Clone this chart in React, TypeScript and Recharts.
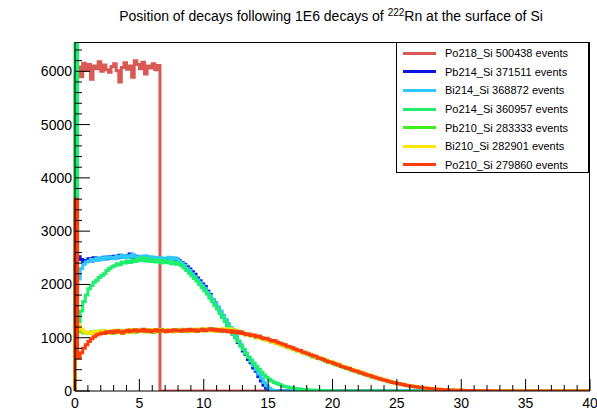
import { LineChart, Line, XAxis, YAxis, Legend } from 'recharts';

// histogram bin width along x
const BIN = 0.2;

const seriesNames = ['Po218_Si', 'Pb214_Si', 'Bi214_Si', 'Po214_Si', 'Pb210_Si', 'Bi210_Si', 'Po210_Si'];
const seriesEvents = [500438, 371511, 368872, 360957, 283333, 282901, 279860];
const seriesColors = ['#d95a55', '#0a16e0', '#2ec8ff', '#1eef6e', '#3cf01e', '#ffe600', '#ff3c0a'];

const po218 = [
  5950, 6080, 5900, 6150, 6020, 6130, 5850, 6100, 6050, 6180, 6000, 6120, 6030, 5980, 6090, 6140, 6010,
  5800, 6070, 6160, 6040, 6100, 5890, 6200, 6130, 6050, 6170, 5950, 6100, 6060, 6140, 6030, 6110,
];

const pb214 = [
  2560, 2520, 2470, 2430, 2450, 2480, 2440, 2500, 2460, 2490, 2470, 2510, 2480, 2520, 2490,
  2530, 2500, 2550, 2510, 2540, 2520, 2570, 2500, 2530, 2490, 2520, 2480, 2510, 2470, 2500,
  2460, 2500, 2450, 2480, 2440, 2470, 2430, 2490, 2450, 2480, 2450, 2410, 2380, 2330, 2290,
  2240, 2190, 2120, 2070, 2010, 1960, 1870, 1810, 1710, 1650, 1560, 1490, 1390, 1330, 1230,
  1170, 1070, 1010, 910, 850, 750, 690, 590, 530, 430, 370, 270, 190, 110, 50, 15, 5,
];

const bi214 = [
  1700, 2100, 2300, 2380, 2420, 2440, 2470, 2450, 2490, 2460, 2500, 2470, 2520, 2490, 2510,
  2480, 2530, 2510, 2550, 2500, 2540, 2510, 2560, 2520, 2500, 2530, 2500, 2540, 2490, 2520,
  2480, 2510, 2470, 2500, 2460, 2490, 2510, 2470, 2500, 2480, 2440, 2400, 2360, 2300, 2260,
  2200, 2150, 2090, 2040, 1980, 1930, 1850, 1790, 1720, 1640, 1580, 1500, 1420, 1340, 1260,
  1190, 1100, 1030, 940, 870, 790, 710, 630, 560, 480, 400, 320, 240, 160, 100, 50, 20, 8,
];

const po214 = [
  7000, 1300, 1500, 1680, 1800, 1920, 1980, 2040, 2080, 2130, 2170, 2200, 2260, 2300, 2330,
  2350, 2390, 2370, 2420, 2400, 2440, 2410, 2460, 2430, 2480, 2450, 2500, 2440, 2480, 2430,
  2460, 2420, 2470, 2400, 2450, 2410, 2440, 2390, 2420, 2380, 2400, 2350, 2310, 2260, 2210,
  2160, 2110, 2060, 2000, 1940, 1880, 1820, 1740, 1680, 1600, 1540, 1450, 1380, 1300, 1220,
  1150, 1070, 1000, 930, 850, 780, 710, 640, 580, 520, 460, 410, 350, 300, 260,
  220, 190, 160, 140, 120, 100, 85, 75, 65, 55, 48, 42, 36, 30, 26,
  22, 20, 17, 15, 12, 10, 9, 8, 7, 6, 5,
];

const pb210 = [
  1310, 1170, 1110, 1090, 1100, 1080, 1110, 1090, 1120, 1100, 1130, 1090, 1120, 1100, 1080,
  1120, 1100, 1140, 1090, 1130, 1110, 1150, 1120, 1100, 1140, 1120, 1140, 1110, 1150, 1130,
  1100, 1140, 1120, 1160, 1110, 1140, 1120, 1130, 1110, 1150, 1120, 1160, 1130, 1110, 1140,
  1150, 1120, 1160, 1130, 1140, 1160, 1130, 1150, 1170, 1130, 1150, 1120, 1160, 1130, 1140,
  1110, 1150, 1100, 1120, 1080, 1090, 1050, 1060, 1030, 1040, 1000, 1020, 990, 970, 960,
  950, 920, 930, 890, 880, 860, 850, 820, 810, 790, 780, 750, 740, 720, 700,
  690, 670, 640, 630, 610, 600, 580, 560, 540, 530, 510, 490, 480, 460, 440,
  420, 410, 390, 380, 360, 340, 330, 310, 300, 280, 260, 250, 240, 220, 210,
  195, 185, 170, 160, 145, 135, 128, 118, 108, 98, 90, 82, 76, 70, 62,
  56, 52, 46, 42, 38, 34, 30, 27, 24, 22, 19, 17, 16, 14, 12,
  11, 10, 9, 8, 7, 6, 5, 5, 4, 4, 3, 3, 2, 2, 1, 1, 1, 1, 1, 1,
];

const bi210 = [
  1250, 1230, 1160, 1120, 1090, 1100, 1080, 1110, 1090, 1120, 1100, 1130, 1110, 1090, 1120,
  1140, 1110, 1090, 1130, 1120, 1100, 1130, 1150, 1110, 1130, 1150, 1120, 1130, 1110, 1150,
  1130, 1110, 1150, 1130, 1120, 1150, 1130, 1110, 1140, 1120, 1130, 1150, 1120, 1140, 1130,
  1120, 1160, 1140, 1130, 1170, 1140, 1160, 1130, 1150, 1120, 1160, 1140, 1170, 1130, 1150,
  1170, 1130, 1140, 1110, 1100, 1070, 1080, 1050, 1060, 1030, 1020, 990, 1010, 980, 950,
  940, 930, 910, 900, 870, 870, 840, 830, 800, 800, 770, 760, 750, 720, 710,
  710, 680, 670, 640, 630, 620, 600, 580, 560, 550, 530, 510, 500, 470, 460,
  440, 430, 410, 390, 380, 360, 350, 330, 310, 300, 280, 265, 250, 235, 220,
  205, 195, 180, 165, 155, 145, 132, 122, 112, 104, 95, 88, 80, 72, 66,
  60, 54, 50, 44, 40, 36, 32, 29, 26, 23, 21, 18, 17, 15, 13,
  12, 11, 9, 8, 7, 7, 6, 5, 4, 4, 3, 3, 2, 2, 2, 1, 1, 1, 1, 1,
];

const po210 = [
  3600, 620, 720, 800, 870, 930, 980, 1020, 1050, 1070, 1090, 1080, 1110, 1100, 1120,
  1100, 1130, 1110, 1090, 1120, 1140, 1110, 1130, 1150, 1120, 1130, 1160, 1120, 1140, 1110,
  1130, 1150, 1120, 1140, 1130, 1110, 1140, 1120, 1150, 1130, 1140, 1120, 1150, 1130, 1160,
  1130, 1150, 1120, 1140, 1160, 1130, 1150, 1170, 1140, 1160, 1130, 1150, 1120, 1140, 1110,
  1130, 1100, 1120, 1090, 1110, 1080, 1060, 1070, 1040, 1050, 1020, 1030, 1000, 980, 990,
  960, 940, 950, 920, 900, 880, 870, 840, 830, 810, 790, 770, 760, 730, 720,
  700, 680, 660, 650, 620, 610, 590, 570, 550, 540, 520, 500, 490, 460, 450,
  430, 420, 400, 380, 370, 350, 340, 320, 300, 290, 270, 260, 240, 230, 210,
  200, 190, 175, 160, 150, 140, 130, 120, 110, 100, 92, 85, 78, 70, 64,
  58, 52, 48, 43, 39, 35, 31, 28, 25, 22, 20, 18, 16, 14, 13,
  12, 10, 9, 8, 7, 6, 6, 5, 4, 4, 3, 3, 2, 2, 2, 1, 1, 1, 1, 1,
];

const seriesValues = [po218, pb214, bi214, po214, pb210, bi210, po210];

const xTicks = [0, 1, 2, 3, 4, 5, 6, 7, 8, 9, 10, 11, 12, 13, 14, 15, 16, 17, 18, 19, 20,
  21, 22, 23, 24, 25, 26, 27, 28, 29, 30, 31, 32, 33, 34, 35, 36, 37, 38, 39, 40];
const xLabels = [0, 5, 10, 15, 20, 25, 30, 35, 40];
const yTicks = [0, 200, 400, 600, 800, 1000, 1200, 1400, 1600, 1800, 2000, 2200, 2400, 2600, 2800,
  3000, 3200, 3400, 3600, 3800, 4000, 4200, 4400, 4600, 4800, 5000, 5200, 5400, 5600, 5800, 6000, 6200, 6400];
const yLabels = [0, 1000, 2000, 3000, 4000, 5000, 6000];

const X_MAX = 40;
const Y_MAX = 6550;

const W = 597;
const H = 410;
const PLOT_LEFT = 75;
const PLOT_TOP = 42;
const PLOT_RIGHT = 590;
const PLOT_BOTTOM = 391;
const FONT = '"Liberation Sans", Arial, Helvetica, sans-serif';

// histogram outline: rise from 0 at the left edge, fall back to 0 after the last bin
function toHist(values: number[]) {
  const pts = [{ x: 0, y: 0 }];
  values.forEach((v, i) => pts.push({ x: +(i * BIN).toFixed(2), y: v }));
  pts.push({ x: +(values.length * BIN).toFixed(2), y: 0 });
  pts.push({ x: X_MAX, y: 0 });
  return pts;
}

const XTick = (props: any) => {
  const { x, payload } = props;
  const major = xLabels.includes(payload.value);
  return (
    <g>
      <line x1={x} x2={x} y1={PLOT_BOTTOM} y2={PLOT_BOTTOM - (major ? 12 : 6)} stroke="#000" strokeWidth={1} />
      {major && (
        <text x={x} y={408} textAnchor="middle" fontSize={14} fontFamily={FONT} fill="#000">
          {payload.value}
        </text>
      )}
    </g>
  );
};

const YTick = (props: any) => {
  const { y, payload } = props;
  const major = yLabels.includes(payload.value);
  return (
    <g>
      <line x1={PLOT_LEFT} x2={PLOT_LEFT + (major ? 15 : 7)} y1={y} y2={y} stroke="#000" strokeWidth={1} />
      {major && (
        <text x={72} y={y + 5} textAnchor="end" fontSize={14} fontFamily={FONT} fill="#000">
          {payload.value}
        </text>
      )}
    </g>
  );
};

const LegendBox = () => (
  <div
    style={{
      width: 193,
      height: 131,
      boxSizing: 'border-box',
      border: '1px solid #000',
      background: '#fff',
      paddingTop: 1,
      fontFamily: FONT,
      fontSize: 11,
      color: '#000',
    }}
  >
    {seriesNames.map((name, i) => (
      <div key={name} style={{ height: 18.6, display: 'flex', alignItems: 'center', whiteSpace: 'nowrap' }}>
        <div style={{ width: 33, height: 3, marginLeft: 6, background: seriesColors[i] }} />
        <span style={{ marginLeft: 9 }}>{name} {seriesEvents[i]} events</span>
      </div>
    ))}
  </div>
);

export default function App() {
  return (
    <div style={{ position: 'absolute', left: 0, top: 0, width: W, height: H, background: '#fff', fontFamily: FONT }}>
      <div
        style={{
          position: 'absolute',
          left: 0,
          top: 8,
          width: 662,
          textAlign: 'center',
          fontSize: 14,
          lineHeight: '16px',
          color: '#000',
          whiteSpace: 'nowrap',
        }}
      >
        Position of decays following 1E6 decays of{' '}
        <span style={{ fontSize: 10, position: 'relative', top: -5 }}>222</span>Rn at the surface of Si
      </div>
      <LineChart
        width={W}
        height={H}
        margin={{ top: PLOT_TOP, right: W - PLOT_RIGHT, left: 0, bottom: 0 }}
      >
        <XAxis
          type="number"
          dataKey="x"
          domain={[0, X_MAX]}
          ticks={xTicks}
          interval={0}
          tickLine={false}
          axisLine={{ stroke: '#000' }}
          height={H - PLOT_BOTTOM}
          tick={(p: any) => <XTick {...p} />}
        />
        <YAxis
          type="number"
          domain={[0, Y_MAX]}
          allowDataOverflow
          ticks={yTicks}
          interval={0}
          tickLine={false}
          axisLine={{ stroke: '#000' }}
          width={PLOT_LEFT}
          tick={(p: any) => <YTick {...p} />}
        />
        {seriesNames.map((name, i) => (
          <Line
            key={name}
            data={toHist(seriesValues[i])}
            dataKey="y"
            name={name}
            type="stepAfter"
            stroke={seriesColors[i]}
            strokeWidth={3}
            dot={false}
            activeDot={false}
            isAnimationActive={false}
          />
        ))}
        <Legend
          layout="vertical"
          align="center"
          verticalAlign="middle"
          wrapperStyle={{ position: 'absolute', left: 396, top: PLOT_TOP, width: 193 }}
          content={() => <LegendBox />}
        />
      </LineChart>
      <div
        style={{
          position: 'absolute',
          left: PLOT_LEFT,
          top: PLOT_TOP,
          width: PLOT_RIGHT - PLOT_LEFT,
          height: PLOT_BOTTOM - PLOT_TOP,
          boxSizing: 'border-box',
          borderTop: '1px solid #000',
          borderRight: '1px solid #000',
          pointerEvents: 'none',
        }}
      />
    </div>
  );
}
